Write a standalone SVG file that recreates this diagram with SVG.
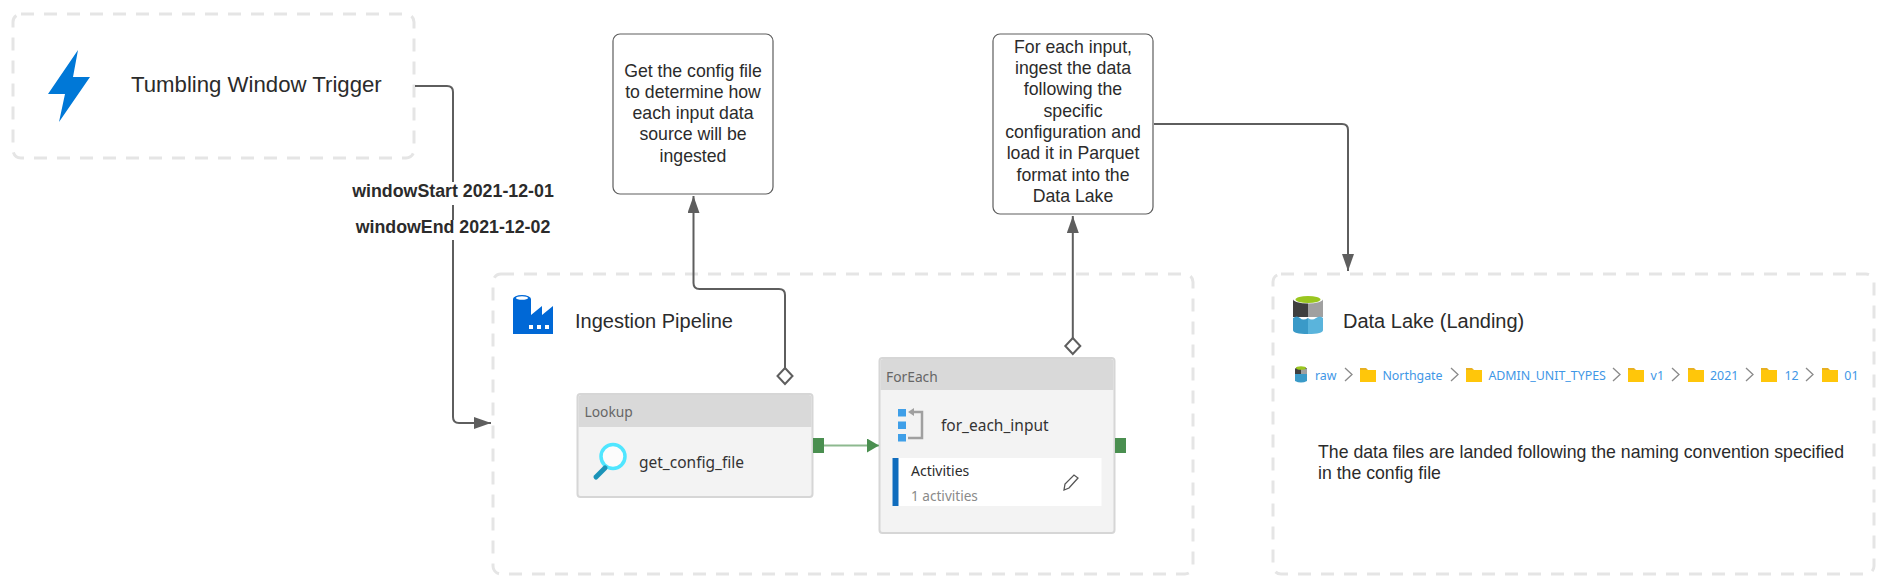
<svg xmlns="http://www.w3.org/2000/svg" width="1885" height="587" viewBox="0 0 1885 587">
<defs>
<style>
text{font-family:"Liberation Sans",Arial,sans-serif;fill:#2b2b2b}
.seg{font-family:"Noto Sans","Open Sans",sans-serif}
.zone{fill:#fff;stroke:#e5e5e5;stroke-width:3;stroke-dasharray:13 10}
.note{fill:#fff;stroke:#5e5e5e;stroke-width:1.2}
.note-t{font-size:17.7px;text-anchor:middle}
.title{font-size:20px}
.conn{fill:none;stroke:#5e5e5e;stroke-width:2}
.lbl{font-size:17.8px;font-weight:700;text-anchor:middle}
.card{fill:#f3f3f3;stroke:#d6d6d6;stroke-width:2}
.head{fill:#d9d9d9}
.kind{font-size:13.8px;fill:#666}
.name{font-size:15.5px;fill:#333}
.port{fill:#4a8f50}
.crumb{font-size:12.4px;fill:#3f97e6}
.chev{fill:none;stroke:#8a8a8a;stroke-width:1.3}
.fold{fill:#ffc60a}
.tab{fill:#e8b020}
</style>
<marker id="arrow" viewBox="0 0 17 12" refX="17" refY="6" markerWidth="17" markerHeight="12" markerUnits="userSpaceOnUse" orient="auto"><path d="M0 0L17 6L0 12Z" fill="#5e5e5e"/></marker>
<marker id="diamond" viewBox="0 0 20 20" refX="10" refY="10" markerWidth="20" markerHeight="20" markerUnits="userSpaceOnUse"><path d="M10 2L17.5 10L10 18L2.5 10Z" fill="#fff" stroke="#5e5e5e" stroke-width="2"/></marker>
<marker id="garrow" viewBox="0 0 12 14" refX="12" refY="7" markerWidth="12" markerHeight="14" markerUnits="userSpaceOnUse" orient="auto"><path d="M0 0L12 7L0 14Z" fill="#4a8f50"/></marker>
<g id="folder"><path class="tab" d="M0 0h6l2 2h-8z"/><rect class="fold" y="2" width="16" height="12"/></g>
<path id="chevron" class="chev" d="M0 0L7 6.5L0 13"/>
</defs>

<g id="trigger">
<rect class="zone" x="13" y="14" width="401" height="144" rx="8"/>
<path d="M78 50L48 94L65 94L59 122L90 77L73 77Z" fill="#0078d7"/>
<text x="131" y="92" font-size="22.2">Tumbling Window Trigger</text>
</g>

<g id="pipeline">
<rect class="zone" x="493" y="274" width="700" height="300" rx="8"/>
<path d="M513 299a9 4 0 0 1 18 0V315L542 306V315L553 306V334H513Z" fill="#0068d6"/>
<ellipse cx="522" cy="298" rx="6" ry="1.8" fill="#fff"/>
<rect x="529" y="325" width="4" height="4" fill="#fff"/><rect x="537" y="325" width="4" height="4" fill="#fff"/><rect x="545" y="325" width="4" height="4" fill="#fff"/>
<text class="title" x="575" y="328">Ingestion Pipeline</text>
</g>

<g id="datalake">
<rect class="zone" x="1273" y="274" width="601" height="300" rx="8"/>
<path d="M1293 299V317L1308 317V299Z" fill="#3f3f3f"/>
<path d="M1308 299V317L1323 317V299Z" fill="#a0a0a0"/>
<path d="M1293 318q4-3 7 0t8 0V334q-15 0-15-4Z" fill="#3a9ac8"/>
<path d="M1308 318q4 3 8 0t7 0V330q0 4-15 4Z" fill="#5ab4dc"/>
<ellipse cx="1308" cy="299" rx="15" ry="4.5" fill="#fff"/>
<ellipse cx="1308" cy="299.500" rx="12.500" ry="3.500" fill="#9ac61f"/>
<text class="title" x="1343" y="328">Data Lake (Landing)</text>
<g id="breadcrumb">
<path d="M1295 369a6 2 0 0 1 12 0V374h-12Z" fill="#3f3f3f"/><path d="M1301 369h6V374h-6Z" fill="#a0a0a0"/>
<path d="M1295 374h12V381q-6 3-12 0Z" fill="#3a9ac8"/><ellipse cx="1301" cy="368" rx="5" ry="1.800" fill="#9ac61f"/>
<text class="crumb seg" x="1315" y="380">raw</text>
<use href="#chevron" x="1345" y="368"/><use href="#folder" x="1360" y="368"/>
<text class="crumb seg" x="1382.400" y="380">Northgate</text>
<use href="#chevron" x="1451" y="368"/><use href="#folder" x="1466" y="368"/>
<text class="crumb seg" x="1488.400" y="380">ADMIN_UNIT_TYPES</text>
<use href="#chevron" x="1613" y="368"/><use href="#folder" x="1628" y="368"/>
<text class="crumb seg" x="1650.600" y="380">v1</text>
<use href="#chevron" x="1672" y="368"/><use href="#folder" x="1688" y="368"/>
<text class="crumb seg" x="1710" y="380">2021</text>
<use href="#chevron" x="1746" y="368"/><use href="#folder" x="1761" y="368"/>
<text class="crumb seg" x="1784.500" y="380">12</text>
<use href="#chevron" x="1806" y="368"/><use href="#folder" x="1822" y="368"/>
<text class="crumb seg" x="1844.300" y="380">01</text>
</g>
<text x="1318" y="458" font-size="17.700">The data files are landed following the naming convention specified</text>
<text x="1318" y="479" font-size="17.700">in the config file</text>
</g>

<g id="lookup">
<rect class="card" x="577.500" y="394" width="235" height="103" rx="3"/>
<path class="head" d="M578.500 398a3 3 0 0 1 3-3H808.500a3 3 0 0 1 3 3V427H578.500Z"/>
<text class="kind seg" x="584.500" y="417">Lookup</text>
<circle cx="613" cy="456.500" r="12" fill="#fff" fill-opacity=".7" stroke="#50e6ff" stroke-width="3.500"/>
<path d="M605 468L596 477" stroke="#1b93b8" stroke-width="5" stroke-linecap="round"/>
<text class="name seg" x="639" y="468">get_config_file</text>
</g>

<g id="foreach">
<rect class="card" x="879.500" y="358" width="235" height="175" rx="3"/>
<path class="head" d="M880.500 362a3 3 0 0 1 3-3H1110.500a3 3 0 0 1 3 3V390H880.500Z"/>
<text class="kind seg" x="886" y="381.500">ForEach</text>
<rect x="898" y="409" width="8" height="7.500" fill="#3f9fe8"/><rect x="898" y="421.500" width="8" height="7.500" fill="#3f9fe8"/><rect x="898" y="434" width="8" height="7.500" fill="#3f9fe8"/>
<path d="M914 412H922V438H908" fill="none" stroke="#a0a0a0" stroke-width="2.500"/><path d="M908 412L914 408V416Z" fill="#a0a0a0"/>
<text class="name seg" x="941" y="430.500">for_each_input</text>
<rect x="892.500" y="458" width="209" height="48" fill="#fff"/>
<rect x="892.500" y="458" width="6" height="48" fill="#0f6cbd"/>
<text class="seg" x="911" y="476" font-size="14">Activities</text>
<text class="seg" x="911" y="500.500" font-size="13.600" style="fill:#8a8a8a">1 activities</text>
<path d="M1064 490L1065 484L1074 475L1078 478L1069 488Z" fill="none" stroke="#555" stroke-width="1.300"/>
</g>

<g id="notes">
<g id="note-config">
<rect class="note" x="613" y="34" width="160" height="160" rx="7"/>
<text class="note-t" x="693" y="76.500">Get the config file</text>
<text class="note-t" x="693" y="97.700">to determine how</text>
<text class="note-t" x="693" y="119">each input data</text>
<text class="note-t" x="693" y="140">source will be</text>
<text class="note-t" x="693" y="161.500">ingested</text>
</g>
<g id="note-ingest">
<rect class="note" x="993" y="34" width="160" height="180" rx="7"/>
<text class="note-t" x="1073" y="52.500">For each input,</text>
<text class="note-t" x="1073" y="74">ingest the data</text>
<text class="note-t" x="1073" y="95">following the</text>
<text class="note-t" x="1073" y="116.500">specific</text>
<text class="note-t" x="1073" y="138">configuration and</text>
<text class="note-t" x="1073" y="159">load it in Parquet</text>
<text class="note-t" x="1073" y="180.500">format into the</text>
<text class="note-t" x="1073" y="202">Data Lake</text>
</g>
</g>

<g id="connectors">
<path class="conn" d="M415 86H447Q453 86 453 92V417Q453 423 459 423H491" marker-end="url(#arrow)"/>
<rect x="352" y="182" width="201" height="23" fill="#fff"/>
<rect x="356" y="220" width="194" height="20" fill="#fff"/>
<text class="lbl" x="453" y="197">windowStart 2021-12-01</text>
<text class="lbl" x="453" y="233">windowEnd 2021-12-02</text>
<path class="conn" d="M785 376V295Q785 289 779 289H699.500Q693.500 289 693.500 283V196" marker-start="url(#diamond)" marker-end="url(#arrow)"/>
<path class="conn" d="M1072.800 346V216" marker-start="url(#diamond)" marker-end="url(#arrow)"/>
<path class="conn" d="M1154 124H1342Q1348 124 1348 130V271" marker-end="url(#arrow)"/>
<rect class="port" x="813" y="438" width="11" height="15"/>
<rect class="port" x="1115" y="438" width="11" height="15"/>
<path d="M824 445.500H879" fill="none" stroke="#8db98f" stroke-width="2" marker-end="url(#garrow)"/>
</g>
</svg>
